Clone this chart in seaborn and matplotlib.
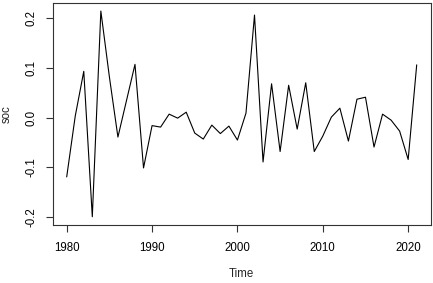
import numpy as np
import pandas as pd
import matplotlib
matplotlib.use("Agg")
import matplotlib.pyplot as plt
import seaborn as sns

# yearly series
years = list(range(1980, 2022))
soc = [-0.119, 0.003, 0.093, -0.199, 0.214, 0.082, -0.039, 0.034, 0.107, -0.101,
       -0.016, -0.019, 0.007, -0.001, 0.011, -0.031, -0.043, -0.015, -0.032, -0.017,
       -0.045, 0.009, 0.206, -0.089, 0.068, -0.068, 0.065, -0.023, 0.070, -0.068,
       -0.037, 0.001, 0.019, -0.047, 0.037, 0.041, -0.059, 0.007, -0.005, -0.027,
       -0.084, 0.106]
x_ticks = [1980, 1990, 2000, 2010, 2020]
y_ticks = [-0.2, -0.1, 0.0, 0.1, 0.2]
y_ticklabels = ["-0.2", "-0.1", "0.0", "0.1", "0.2"]

df = pd.DataFrame({"Time": years, "soc": soc})

sns.set_style("ticks")
plt.rcParams["font.family"] = ["Liberation Sans", "DejaVu Sans"]

fig = plt.figure(figsize=(4.33, 2.83), dpi=100)
ax = fig.add_axes([0.1217, 0.205, 0.873, 0.785])

sns.lineplot(data=df, x="Time", y="soc", ax=ax, color="black", linewidth=0.8)

# R-style 4% padding
xr = years[-1] - years[0]
ax.set_xlim(years[0] - 0.04 * xr, years[-1] + 0.04 * xr)
yr = max(soc) - min(soc)
ax.set_ylim(min(soc) - 0.04 * yr, max(soc) + 0.04 * yr)

ax.set_xticks(x_ticks)
ax.set_yticks(y_ticks)
ax.set_yticklabels(y_ticklabels, rotation=90, va="center")
ax.tick_params(axis="both", length=5, width=0.8, color="#333333",
               labelsize=8.3, labelcolor="black")
ax.tick_params(axis="x", pad=7)
ax.tick_params(axis="y", pad=6)
for s in ax.spines.values():
    s.set_visible(True)
    s.set_color("#333333")
    s.set_linewidth(0.8)

ax.set_xlabel("Time", fontsize=8.3, labelpad=10)
ax.set_ylabel("soc", fontsize=8.3, labelpad=9)

fig.savefig("out.png", dpi=100)
